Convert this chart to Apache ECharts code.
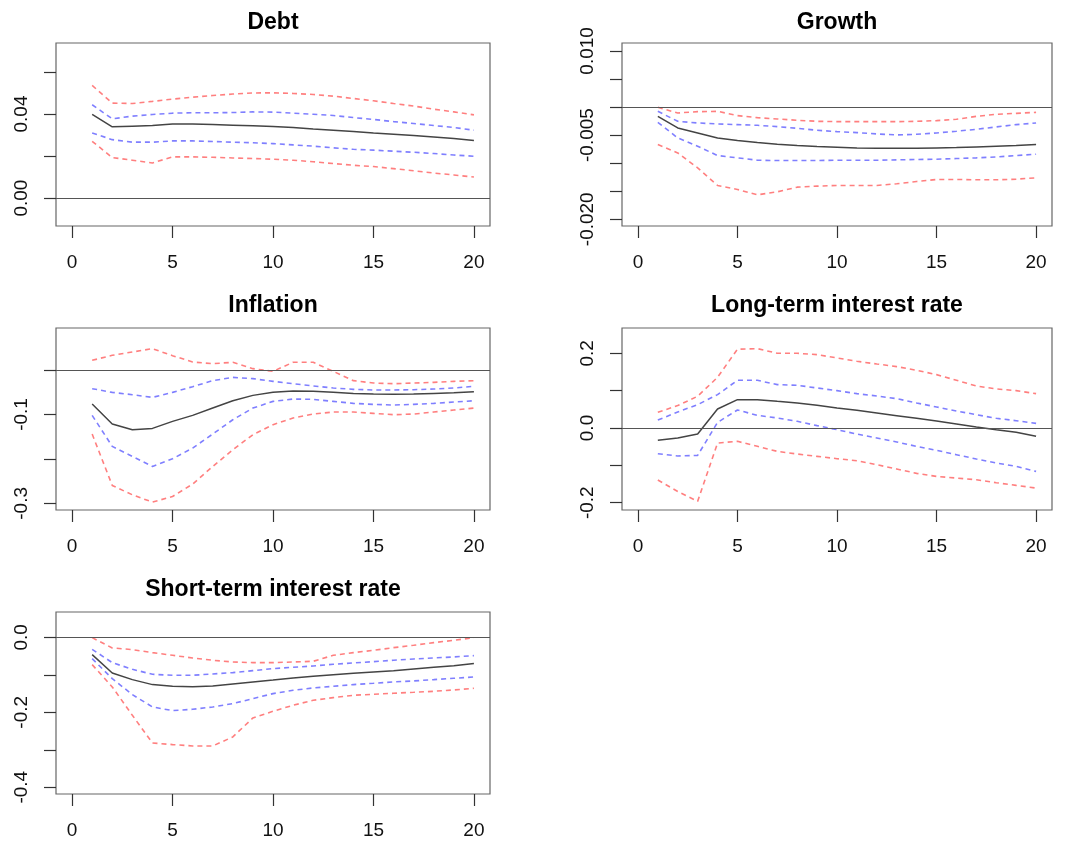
<!DOCTYPE html>
<html>
<head>
<meta charset="utf-8">
<script src="https://cdn.jsdelivr.net/npm/echarts@6/dist/echarts.min.js"></script>
<style>
html,body{margin:0;padding:0;background:#fff;}
#chart{width:1065px;height:843px;}
</style>
</head>
<body>
<div id="chart"></div>
<script>
// ---- data ----
const periods = [1,2,3,4,5,6,7,8,9,10,11,12,13,14,15,16,17,18,19,20];
const xTicks = [0,5,10,15,20];

const titles = ["Debt", "Growth", "Inflation", "Long-term interest rate", "Short-term interest rate"];

// Debt
const debtMean  = [0.0398,0.0339,0.0342,0.0345,0.0353,0.0353,0.0350,0.0347,0.0344,0.0340,0.0336,0.0329,0.0323,0.0317,0.0310,0.0304,0.0298,0.0291,0.0283,0.0274];
const debtUp68  = [0.0444,0.0377,0.0390,0.0398,0.0404,0.0406,0.0406,0.0407,0.0410,0.0409,0.0404,0.0399,0.0393,0.0383,0.0374,0.0364,0.0355,0.0345,0.0336,0.0323];
const debtLo68  = [0.0310,0.0278,0.0266,0.0266,0.0272,0.0272,0.0269,0.0266,0.0263,0.0259,0.0253,0.0247,0.0239,0.0232,0.0228,0.0223,0.0218,0.0212,0.0205,0.0199];
const debtUp95  = [0.0536,0.0452,0.0450,0.0460,0.0471,0.0480,0.0488,0.0495,0.0500,0.0501,0.0498,0.0493,0.0485,0.0474,0.0463,0.0450,0.0438,0.0423,0.0410,0.0396];
const debtLo95  = [0.0270,0.0193,0.0180,0.0167,0.0196,0.0196,0.0194,0.0191,0.0188,0.0185,0.0180,0.0173,0.0164,0.0156,0.0150,0.0140,0.0130,0.0119,0.0110,0.0100];
const debtYTicks = [0,0.02,0.04,0.06];
const debtYLabels = [0,0.04];

// Growth
const growthMean = [-0.00166,-0.00373,-0.00462,-0.00551,-0.00598,-0.00634,-0.00663,-0.00687,-0.00705,-0.00717,-0.00729,-0.00735,-0.00735,-0.00735,-0.00729,-0.00723,-0.00711,-0.00699,-0.00687,-0.00669];
const growthUp68 = [-0.00077,-0.00255,-0.00284,-0.00302,-0.00314,-0.00326,-0.00350,-0.00379,-0.00415,-0.00438,-0.00456,-0.00480,-0.00498,-0.00486,-0.00462,-0.00432,-0.00397,-0.00355,-0.00314,-0.00284];
const growthLo68 = [-0.00273,-0.00551,-0.00699,-0.00865,-0.00906,-0.00948,-0.00954,-0.00954,-0.00954,-0.00948,-0.00948,-0.00948,-0.00942,-0.00936,-0.00930,-0.00918,-0.00906,-0.00889,-0.00865,-0.00841];
const growthUp95 = [-0.00006,-0.00107,-0.00083,-0.00077,-0.00154,-0.00190,-0.00213,-0.00237,-0.00255,-0.00261,-0.00261,-0.00261,-0.00261,-0.00255,-0.00243,-0.00219,-0.00166,-0.00130,-0.00113,-0.00095];
const growthLo95 = [-0.00669,-0.00818,-0.01084,-0.01398,-0.01469,-0.01564,-0.01511,-0.01428,-0.01410,-0.01398,-0.01398,-0.01398,-0.01368,-0.01327,-0.01291,-0.01291,-0.01297,-0.01297,-0.01286,-0.01262];
const growthYTicks = [-0.02,-0.015,-0.01,-0.005,0,0.005,0.01];
const growthYLabels = [-0.02,-0.005,0.01];

// Inflation
const inflMean = [-0.0766,-0.1216,-0.1344,-0.1314,-0.1156,-0.1021,-0.0856,-0.0691,-0.0571,-0.0503,-0.0473,-0.0480,-0.0503,-0.0526,-0.0541,-0.0548,-0.0541,-0.0526,-0.0511,-0.0488];
const inflUp68 = [-0.0420,-0.0503,-0.0556,-0.0616,-0.0503,-0.0375,-0.0240,-0.0165,-0.0195,-0.0255,-0.0308,-0.0360,-0.0405,-0.0435,-0.0450,-0.0450,-0.0443,-0.0428,-0.0405,-0.0368];
const inflLo68 = [-0.1021,-0.1719,-0.1944,-0.2170,-0.1997,-0.1757,-0.1441,-0.1119,-0.0856,-0.0706,-0.0653,-0.0661,-0.0706,-0.0751,-0.0773,-0.0788,-0.0773,-0.0751,-0.0721,-0.0691];
const inflUp95 = [0.0218,0.0330,0.0405,0.0480,0.0323,0.0180,0.0143,0.0173,0.0030,-0.0030,0.0173,0.0173,-0.0030,-0.0240,-0.0293,-0.0308,-0.0293,-0.0278,-0.0255,-0.0240];
const inflLo95 = [-0.1441,-0.2598,-0.2808,-0.2973,-0.2845,-0.2568,-0.2170,-0.1794,-0.1456,-0.1231,-0.1081,-0.0991,-0.0946,-0.0946,-0.0976,-0.1006,-0.0991,-0.0946,-0.0901,-0.0856];
const inflYTicks = [-0.3,-0.2,-0.1,0];
const inflYLabels = [-0.3,-0.1];

// Long-term interest rate
const ltMean = [-0.0330,-0.0268,-0.0161,0.0509,0.0759,0.0759,0.0714,0.0670,0.0607,0.0536,0.0473,0.0402,0.0330,0.0259,0.0188,0.0107,0.0027,-0.0045,-0.0116,-0.0223];
const ltUp68 = [0.0214,0.0429,0.0625,0.0893,0.1277,0.1277,0.1161,0.1143,0.1071,0.1000,0.0920,0.0857,0.0786,0.0670,0.0563,0.0455,0.0357,0.0259,0.0196,0.0125];
const ltLo68 = [-0.0688,-0.0750,-0.0732,0.0150,0.0482,0.0339,0.0268,0.0179,0.0063,-0.0045,-0.0161,-0.0268,-0.0375,-0.0491,-0.0598,-0.0714,-0.0830,-0.0938,-0.1027,-0.1161];
const ltUp95 = [0.0420,0.0600,0.0850,0.1357,0.2110,0.2125,0.2000,0.2000,0.1964,0.1875,0.1786,0.1714,0.1643,0.1545,0.1429,0.1277,0.1125,0.1045,0.1000,0.0920];
const ltLo95 = [-0.1393,-0.1700,-0.1964,-0.0402,-0.0357,-0.0491,-0.0625,-0.0696,-0.0759,-0.0821,-0.0875,-0.0982,-0.1098,-0.1214,-0.1295,-0.1339,-0.1384,-0.1464,-0.1536,-0.1607];
const ltYTicks = [-0.2,-0.1,0,0.1,0.2];
const ltYLabels = [-0.2,0,0.2];

// Short-term interest rate
const stMean = [-0.0462,-0.0951,-0.1129,-0.1262,-0.1307,-0.1316,-0.1298,-0.1244,-0.1191,-0.1138,-0.1084,-0.1040,-0.0996,-0.0960,-0.0924,-0.0889,-0.0844,-0.0800,-0.0756,-0.0702];
const stUp68 = [-0.0320,-0.0676,-0.0853,-0.0987,-0.1013,-0.1013,-0.0978,-0.0942,-0.0889,-0.0836,-0.0800,-0.0764,-0.0720,-0.0684,-0.0649,-0.0613,-0.0578,-0.0551,-0.0524,-0.0489];
const stLo68 = [-0.0569,-0.1102,-0.1529,-0.1858,-0.1956,-0.1920,-0.1858,-0.1769,-0.1636,-0.1502,-0.1413,-0.1351,-0.1307,-0.1262,-0.1227,-0.1191,-0.1164,-0.1129,-0.1093,-0.1058];
const stUp95 = [-0.0009,-0.0284,-0.0329,-0.0409,-0.0480,-0.0551,-0.0613,-0.0658,-0.0676,-0.0676,-0.0658,-0.0640,-0.0480,-0.0409,-0.0347,-0.0276,-0.0213,-0.0142,-0.0080,-0.0009];
const stLo95 = [-0.0729,-0.1324,-0.2080,-0.2818,-0.2862,-0.2898,-0.2898,-0.2658,-0.2151,-0.1973,-0.1813,-0.1680,-0.1609,-0.1547,-0.1520,-0.1493,-0.1467,-0.1440,-0.1404,-0.1360];
const stYTicks = [-0.4,-0.3,-0.2,-0.1,0];
const stYLabels = [-0.4,-0.2,0];

// ---- layout / style ----
const FONT = "'Liberation Sans', Arial, Helvetica, sans-serif";
const panels = [
  {title: titles[0], ty:23,  grid:{left:56, top:43, width:434, height:183}, ymin:-0.0133, ymax:0.0738, dec:2, yt:debtYTicks, yl:debtYLabels, d:[debtMean,debtUp68,debtLo68,debtUp95,debtLo95]},
  {title: titles[1], ty:23,  grid:{left:622, top:43, width:430, height:183}, ymin:-0.0212, ymax:0.0114, dec:3, yt:growthYTicks, yl:growthYLabels, d:[growthMean,growthUp68,growthLo68,growthUp95,growthLo95]},
  {title: titles[2], ty:306, grid:{left:56, top:328, width:434, height:182}, ymin:-0.315, ymax:0.0945, dec:1, yt:inflYTicks, yl:inflYLabels, d:[inflMean,inflUp68,inflLo68,inflUp95,inflLo95]},
  {title: titles[3], ty:306, grid:{left:622, top:328, width:430, height:182}, ymin:-0.2195, ymax:0.2677, dec:1, yt:ltYTicks, yl:ltYLabels, d:[ltMean,ltUp68,ltLo68,ltUp95,ltLo95]},
  {title: titles[4], ty:590, grid:{left:56, top:612, width:434, height:182}, ymin:-0.418, ymax:0.0675, dec:1, yt:stYTicks, yl:stYLabels, d:[stMean,stUp68,stLo68,stUp95,stLo95]}
];

const pair = arr => periods.map((p,i)=>[p, arr[i]]);

const grids = [], xAxes = [], yAxes = [], series = [], titleOpts = [];
panels.forEach((p, i) => {
  grids.push(Object.assign({show:true, borderColor:'#666', borderWidth:1.2, backgroundColor:'transparent'}, p.grid));
  titleOpts.push({
    text: p.title, left: p.grid.left + p.grid.width/2, top: p.ty,
    textAlign:'center', textVerticalAlign:'middle', padding:0,
    textStyle:{fontFamily:FONT, fontSize:23, fontWeight:'bold', color:'#000'}
  });
  xAxes.push({
    type:'value', gridIndex:i, min:-0.8, max:20.8, position:'bottom',
    axisLine:{show:false, onZero:false}, splitLine:{show:false},
    axisTick:{show:true, length:12, customValues:xTicks, lineStyle:{color:'#333', width:1.2}},
    axisLabel:{customValues:xTicks, fontFamily:FONT, fontSize:19, color:'#111', margin:27, formatter: v => String(v)}
  });
  yAxes.push({
    type:'value', gridIndex:i, min:p.ymin, max:p.ymax, position:'left',
    axisLine:{show:false, onZero:false}, splitLine:{show:false},
    axisTick:{show:true, length:12, customValues:p.yt, lineStyle:{color:'#333', width:1.2}},
    axisLabel:{customValues:p.yl, rotate:90, fontFamily:FONT, fontSize:19, color:'#111', margin:25,
      formatter: v => { let s = Math.abs(v) < 1e-12 ? (0).toFixed(p.dec) : v.toFixed(p.dec); return s; }}
  });
  const mk = (arr, color, dashed, extra) => Object.assign({
    type:'line', xAxisIndex:i, yAxisIndex:i, data:pair(arr), showSymbol:false, symbol:'none', silent:true,
    animation:false,
    lineStyle:{color:color, width:dashed?1.6:1.5, type: dashed ? [5,4] : 'solid'}
  }, extra || {});
  series.push(mk(p.d[3], 'rgba(255,0,0,0.5)', true));
  series.push(mk(p.d[4], 'rgba(255,0,0,0.5)', true));
  series.push(mk(p.d[1], 'rgba(0,0,255,0.5)', true));
  series.push(mk(p.d[2], 'rgba(0,0,255,0.5)', true));
  series.push(mk(p.d[0], '#444', false, {
    markLine:{silent:true, symbol:['none','none'], animation:false, label:{show:false},
      lineStyle:{color:'#555', width:1.2, type:'solid'}, data:[{yAxis:0}]}
  }));
});

const chart = echarts.init(document.getElementById('chart'), null, {renderer:'canvas'});
chart.setOption({
  backgroundColor:'#fff',
  animation:false,
  title:titleOpts,
  grid:grids,
  xAxis:xAxes,
  yAxis:yAxes,
  series:series
});
</script>
</body>
</html>
